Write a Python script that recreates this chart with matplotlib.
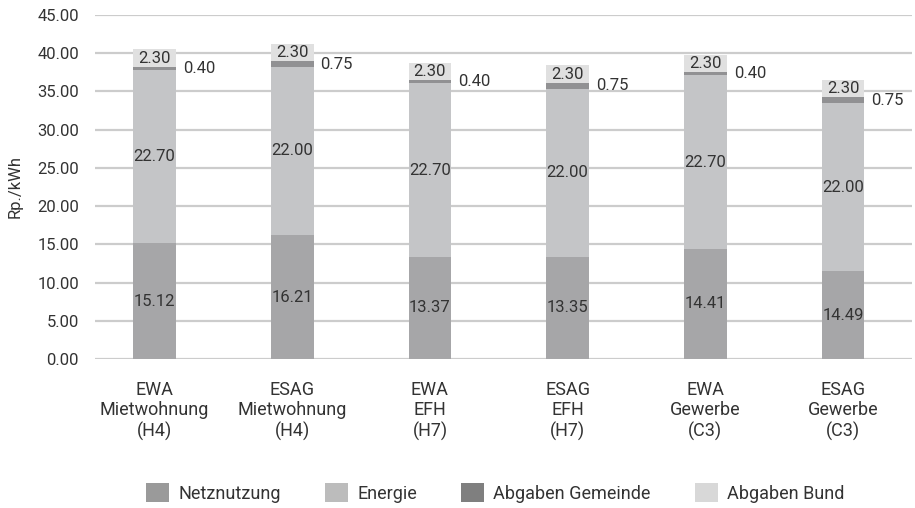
import numpy as np
import matplotlib
matplotlib.use("Agg")
import matplotlib.pyplot as plt

# data
categories = ["EWA\nMietwohnung\n(H4)", "ESAG\nMietwohnung\n(H4)", "EWA\nEFH\n(H7)",
              "ESAG\nEFH\n(H7)", "EWA\nGewerbe\n(C3)", "ESAG\nGewerbe\n(C3)"]
netznutzung = [15.12, 16.21, 13.37, 13.35, 14.41, 11.49]
# printed labels (last one in the source reads 14.49 although the bar is ~11.5)
netznutzung_labels = ["15.12", "16.21", "13.37", "13.35", "14.41", "14.49"]
energie = [22.70, 22.00, 22.70, 22.00, 22.70, 22.00]
abgaben_gemeinde = [0.40, 0.75, 0.40, 0.75, 0.40, 0.75]
abgaben_bund = [2.30, 2.30, 2.30, 2.30, 2.30, 2.30]

series_names = ["Netznutzung", "Energie", "Abgaben Gemeinde", "Abgaben Bund"]
bar_colors = ["#a6a6a8", "#c4c5c7", "#919193", "#e0e0e0"]
legend_colors = ["#9a9a9a", "#bcbcbc", "#7f7f7f", "#d8d8d8"]
text_color = "#333333"

plt.rcParams["font.family"] = ["Roboto", "DejaVu Sans"]
plt.rcParams["font.size"] = 12

fig = plt.figure(figsize=(9.15, 5.08), dpi=100)
ax = fig.add_axes([95 / 915, 149 / 508, 817 / 915, 344 / 508])

x = np.arange(len(categories))
width = 0.31

bottom = np.zeros(len(categories))
bars = []
for vals, name, col in zip([netznutzung, energie, abgaben_gemeinde, abgaben_bund], series_names, bar_colors):
    b = ax.bar(x, vals, width, bottom=bottom, color=col, label=name, zorder=3)
    bars.append((np.array(vals), bottom.copy()))
    bottom = bottom + np.array(vals)

# segment labels
v_net, bot_net = bars[0]
v_en, bot_en = bars[1]
v_ge, bot_ge = bars[2]
v_bu, bot_bu = bars[3]
for i in range(len(x)):
    ax.text(x[i], bot_net[i] + v_net[i] / 2, netznutzung_labels[i], ha="center", va="center",
            color=text_color, zorder=4)
    ax.text(x[i], bot_en[i] + v_en[i] / 2, f"{v_en[i]:.2f}", ha="center", va="center",
            color=text_color, zorder=4)
    ax.annotate(f"{v_ge[i]:.2f}", (x[i] + width / 2, bot_ge[i] + v_ge[i] / 2),
                xytext=(5, 0), textcoords="offset points", ha="left", va="center",
                color=text_color, zorder=4)
    ax.text(x[i], bot_bu[i] + v_bu[i] / 2, f"{v_bu[i]:.2f}", ha="center", va="center",
            color=text_color, zorder=4)

# axes styling
ax.set_ylim(0, 45)
ax.set_yticks(np.arange(0, 46, 5))
ax.set_yticklabels([f"{t:.2f}" for t in np.arange(0, 46, 5)], color=text_color)
ax.set_xlim(-0.432, 5.5)
ax.set_xticks(x)
ax.set_xticklabels(categories, color=text_color, fontsize=13, linespacing=1.17)
ax.tick_params(axis="both", length=0)
ax.tick_params(axis="x", pad=15.5)
ax.tick_params(axis="y", pad=11.5)
ax.yaxis.grid(True, color="#cccccc", linewidth=1.6, zorder=0)
for s in ax.spines.values():
    s.set_visible(False)
ax.set_ylabel("Rp./kWh", color=text_color)
ax.yaxis.set_label_coords(-0.088, 0.5)

leg = ax.legend(loc="center", bbox_to_anchor=(0.49, -0.39), ncol=4, frameon=False, fontsize=13,
                handlelength=1.28, handleheight=1.22, handletextpad=0.5, columnspacing=2.45,
                borderpad=0)
for t in leg.get_texts():
    t.set_color(text_color)
for h, c in zip(leg.legend_handles, legend_colors):
    h.set_facecolor(c)

fig.savefig("out.png", dpi=100)
